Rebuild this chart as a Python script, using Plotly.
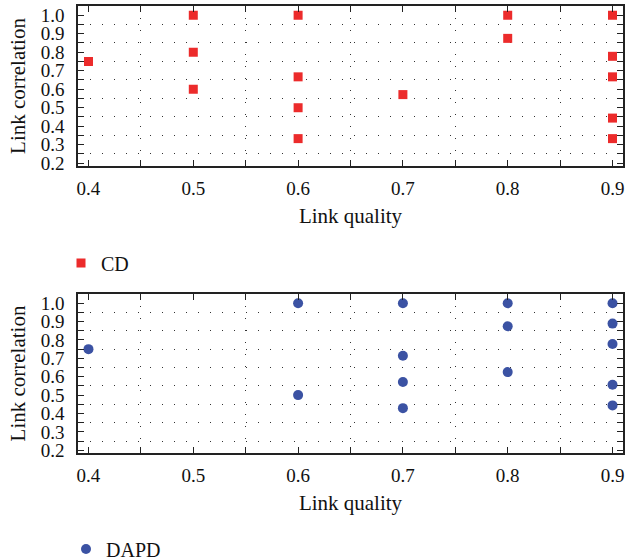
import plotly.graph_objects as go

# CD data
cd_quality = [0.4, 0.5, 0.5, 0.5, 0.6, 0.6, 0.6, 0.6, 0.7, 0.8, 0.8, 0.9, 0.9, 0.9, 0.9, 0.9]
cd_corr = [0.75, 1.0, 0.8, 0.6, 1.0, 0.667, 0.5, 0.333, 0.571, 1.0, 0.875, 1.0, 0.778, 0.667, 0.444, 0.333]

# DAPD data
dapd_quality = [0.4, 0.6, 0.6, 0.7, 0.7, 0.7, 0.7, 0.8, 0.8, 0.8, 0.9, 0.9, 0.9, 0.9, 0.9]
dapd_corr = [0.75, 1.0, 0.5, 1.0, 0.714, 0.571, 0.429, 1.0, 0.875, 0.625, 1.0, 0.889, 0.778, 0.556, 0.444]

x_ticks = [0.4, 0.5, 0.6, 0.7, 0.8, 0.9]
x_ticklabels = ["0.4", "0.5", "0.6", "0.7", "0.8", "0.9"]
x_minor = [0.45, 0.55, 0.65, 0.75, 0.85]
y_ticks = [0.2, 0.3, 0.4, 0.5, 0.6, 0.7, 0.8, 0.9, 1.0]
y_ticklabels = ["0.2", "0.3", "0.4", "0.5", "0.6", "0.7", "0.8", "0.9", "1.0"]
y_minor = [0.25, 0.35, 0.45, 0.55, 0.65, 0.75, 0.85, 0.95]

FONT = "Liberation Serif"
RED = "#EC2B2B"
BLUE = "#3B52A3"
AX = "#222222"
TXT = "#111111"

fig = go.Figure()
fig.add_trace(go.Scatter(
    x=cd_quality, y=cd_corr, mode="markers", name="CD",
    marker=dict(symbol="square", size=9, color=RED),
    xaxis="x", yaxis="y", legend="legend",
))
fig.add_trace(go.Scatter(
    x=dapd_quality, y=dapd_corr, mode="markers", name="DAPD",
    marker=dict(symbol="circle", size=10, color=BLUE),
    xaxis="x2", yaxis="y2", legend="legend2",
))

W, H = 640, 560
L, R, T, B = 78, 17, 6, 107
ph = H - T - B
pw = W - L - R
top_dom = [(453 - 166) / ph, 1.0]
bot_dom = [0.0, (453 - 294) / ph]


def xaxis_cfg(anchor):
    return dict(
        anchor=anchor, range=[0.39, 0.91], tickmode="array", tickvals=x_ticks, ticktext=x_ticklabels,
        showgrid=False, zeroline=False, showline=True, linecolor=AX, linewidth=1.5,
        mirror="allticks", ticks="inside", ticklen=6, tickcolor=AX, tickwidth=1,
        ticklabelstandoff=4, automargin=False,
        tickfont=dict(family=FONT, size=19, color=TXT),
        title=dict(text="Link quality", font=dict(family=FONT, size=21, color=TXT), standoff=11),
        minor=dict(tickmode="array", tickvals=x_minor, ticks="inside", ticklen=6, tickcolor=AX,
                   showgrid=True, gridcolor="#333", gridwidth=1, griddash="1px,11px"),
    )


def yaxis_cfg(anchor, dom):
    return dict(
        anchor=anchor, domain=dom, range=[0.185, 1.05], tickmode="array", tickvals=y_ticks,
        ticktext=y_ticklabels,
        showgrid=False, zeroline=False, showline=True, linecolor=AX, linewidth=1.5,
        mirror="allticks", ticks="inside", ticklen=6, tickcolor=AX, tickwidth=1,
        ticklabelstandoff=8, automargin=False,
        tickfont=dict(family=FONT, size=19, color=TXT),
        title=dict(text="Link correlation", font=dict(family=FONT, size=21, color=TXT), standoff=9),
        minor=dict(tickmode="array", tickvals=y_minor, ticks="inside", ticklen=6, tickcolor=AX,
                   showgrid=True, gridcolor="#333", gridwidth=1, griddash="1px,11px"),
    )


fig.update_layout(
    width=W, height=H,
    margin=dict(l=L, r=R, t=T, b=B, autoexpand=False),
    paper_bgcolor="white", plot_bgcolor="white",
    font=dict(family=FONT, size=18, color=TXT),
    xaxis=xaxis_cfg("y"),
    yaxis=yaxis_cfg("x", top_dom),
    xaxis2=xaxis_cfg("y2"),
    yaxis2=yaxis_cfg("x2", bot_dom),
    legend=dict(x=(61 - L) / pw, y=(453 - 263) / ph, xanchor="left", yanchor="middle",
                font=dict(family=FONT, size=20, color=TXT), bgcolor="rgba(0,0,0,0)"),
    legend2=dict(x=(66 - L) / pw, y=(453 - 549) / ph, xanchor="left", yanchor="middle",
                 font=dict(family=FONT, size=20, color=TXT), bgcolor="rgba(0,0,0,0)"),
    showlegend=True,
)

fig.write_html("out.html", config={"displayModeBar": False},
               post_script="document.body.style.margin='0px';")
